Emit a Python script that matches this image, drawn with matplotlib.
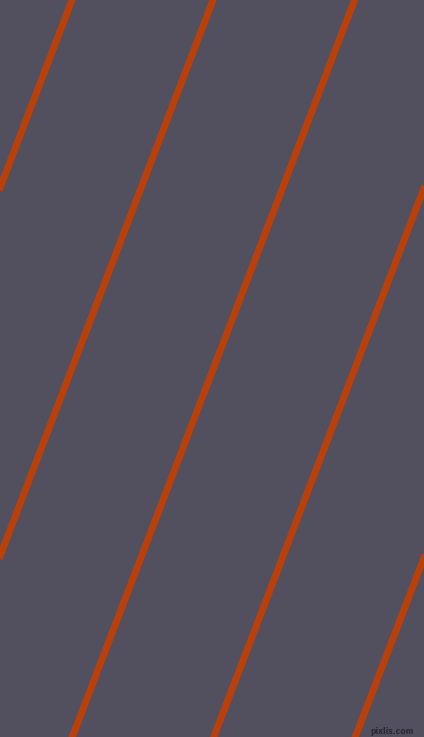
import matplotlib.pyplot as plt
import numpy as np

# x position (px) where each stripe crosses the top edge
stripe_top_x = [72, 213, 354.5, 496, 637.5]
# horizontal shift per pixel going down
stripe_slope = 0.383
width, height = 424, 737

bg_color = '#524f5e'
line_color = '#b9400b'

fig = plt.figure(figsize=(4.24, 7.37), dpi=100)
ax = fig.add_axes([0, 0, 1, 1])
ax.set_facecolor(bg_color)
fig.patch.set_facecolor(bg_color)

y = np.array([-20, height + 20])
for x0 in stripe_top_x:
    ax.plot(x0 - stripe_slope * y, y, color=line_color, lw=5, solid_capstyle='butt')

ax.set_xlim(0, width)
ax.set_ylim(height, 0)
ax.axis('off')

ax.text(414, 731, 'pixlis.com', fontsize=5.5, color='#2a2830', ha='right', va='center',
        fontweight='bold')

fig.savefig('out.png', dpi=100, facecolor=bg_color)
